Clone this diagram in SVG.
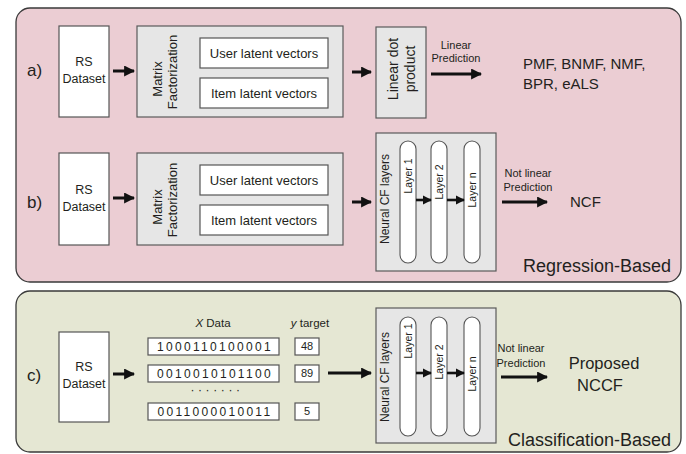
<svg xmlns="http://www.w3.org/2000/svg" width="686" height="454" viewBox="0 0 686 454">
<style>
text{font-family:"Liberation Sans",Arial,sans-serif;fill:#231f20}
.panel{stroke:#3a3a3a;stroke-width:1.3}
.pink{fill:#ebcdd3}
.green{fill:#e5e7d3}
.wbox{fill:#fff;stroke:#555;stroke-width:1.2}
.gbox{fill:#e6e6e6;stroke:#5a5a5a;stroke-width:1.2}
.pill{fill:#fff;stroke:#555;stroke-width:1.1}
.ar{stroke:#111;stroke-width:3;fill:none}
.ar2{stroke:#111;stroke-width:2.6;fill:none}
.lbl{font-size:17px}
.rs{font-size:12.5px;text-anchor:middle}
.lv{font-size:13px;text-anchor:middle}
.rot{font-size:13px;text-anchor:middle;dominant-baseline:central}
.lay{font-size:10.5px;text-anchor:middle;dominant-baseline:central}
.pred{font-size:11px;text-anchor:middle}
.res{font-size:15px}
.big{font-size:18px;text-anchor:end}
.bits{font-size:12px;letter-spacing:2.3px;text-anchor:middle}
.num{font-size:11px;text-anchor:middle}
</style>
<defs>
<marker id="ah" viewBox="0 0 10 10" refX="9" refY="5" markerWidth="11" markerHeight="11" markerUnits="userSpaceOnUse" orient="auto">
<path d="M0,0 L10,5 L0,10 Z" fill="#111"/>
</marker>
<marker id="ahs" viewBox="0 0 10 10" refX="9" refY="5" markerWidth="9" markerHeight="10" markerUnits="userSpaceOnUse" orient="auto">
<path d="M0,0 L10,5 L0,10 Z" fill="#111"/>
</marker>
</defs>

<g id="panel-regression">
<rect class="panel pink" x="16" y="8" width="665" height="274" rx="14"/>
<text class="big" x="671" y="272">Regression-Based</text>
</g>
<g id="panel-classification">
<rect class="panel green" x="16" y="291" width="665" height="161" rx="14"/>
<text class="big" x="671" y="446">Classification-Based</text>
</g>

<g id="row-a">
<text class="lbl" x="27" y="76">a)</text>
</g>
<g id="rs-a">
<rect class="wbox" x="59" y="26" width="50" height="91"/>
<text class="rs" x="84" y="66">RS</text>
<text class="rs" x="84" y="83">Dataset</text>
</g>
<g id="mf-a">
<rect class="gbox" x="137" y="26" width="206" height="91"/>
<text class="rot" transform="rotate(-90 157 79)" x="157" y="79">Matrix</text>
<text class="rot" transform="rotate(-90 172 72)" x="172" y="72">Factorization</text>
<rect class="wbox" x="200" y="38" width="128" height="30"/>
<text class="lv" x="264" y="58">User latent vectors</text>
<rect class="wbox" x="200" y="78" width="128" height="30"/>
<text class="lv" x="264" y="98">Item latent vectors</text>
</g>
<g id="dot-a">
<rect class="gbox" x="376" y="27" width="50" height="91"/>
<text class="rot" style="font-size:14px" transform="rotate(-90 393 69)" x="393" y="69">Linear dot</text>
<text class="rot" style="font-size:14px" transform="rotate(-90 410 69)" x="410" y="69">product</text>
</g>
<g id="out-a">
<text class="pred" x="456" y="49">Linear</text>
<text class="pred" x="456" y="62">Prediction</text>
<text class="res" x="523" y="69">PMF, BNMF, NMF,</text>
<text class="res" x="523" y="89">BPR, eALS</text>
</g>

<g id="row-b">
<text class="lbl" x="27" y="208">b)</text>
</g>
<g id="rs-b">
<rect class="wbox" x="59" y="153" width="50" height="92"/>
<text class="rs" x="84" y="194">RS</text>
<text class="rs" x="84" y="211">Dataset</text>
</g>
<g id="mf-b">
<rect class="gbox" x="137" y="153" width="206" height="92"/>
<text class="rot" transform="rotate(-90 157 207)" x="157" y="207">Matrix</text>
<text class="rot" transform="rotate(-90 172 200)" x="172" y="200">Factorization</text>
<rect class="wbox" x="200" y="165" width="128" height="30"/>
<text class="lv" x="264" y="185">User latent vectors</text>
<rect class="wbox" x="200" y="205" width="128" height="30"/>
<text class="lv" x="264" y="225">Item latent vectors</text>
</g>
<g id="ncf-b">
<rect class="gbox" x="376" y="133" width="120" height="138"/>
<text class="rot" style="font-size:12px" transform="rotate(-90 385 199)" x="385" y="199">Neural CF layers</text>
<rect class="pill" x="400" y="141" width="16" height="122" rx="8"/>
<rect class="pill" x="431" y="141" width="16" height="122" rx="8"/>
<rect class="pill" x="464" y="141" width="16" height="122" rx="8"/>
<text class="lay" transform="rotate(-90 408 176)" x="408" y="176">Layer 1</text>
<text class="lay" transform="rotate(-90 439 182)" x="439" y="182">Layer 2</text>
<text class="lay" transform="rotate(-90 472 190)" x="472" y="190">Layer n</text>
</g>
<g id="out-b">
<text class="pred" x="528" y="177">Not linear</text>
<text class="pred" x="528" y="191">Prediction</text>
<text class="res" x="570" y="207">NCF</text>
</g>

<g id="row-c">
<text class="lbl" x="27" y="381">c)</text>
</g>
<g id="rs-c">
<rect class="wbox" x="59" y="332" width="50" height="90"/>
<text class="rs" x="84" y="371">RS</text>
<text class="rs" x="84" y="388">Dataset</text>
</g>
<g id="data-c">
<text class="num" style="font-size:11.5px" x="213" y="327"><tspan font-style="italic">X</tspan> Data</text>
<text class="num" style="font-size:11.5px" x="310" y="327"><tspan font-style="italic">y</tspan> target</text>
<rect class="wbox" x="148" y="338" width="131" height="17"/>
<text class="bits" x="215" y="351">1000110100001</text>
<rect class="wbox" x="148" y="365" width="131" height="17"/>
<text class="bits" x="215" y="378">0010010101100</text>
<text class="bits" style="letter-spacing:3.6px" x="217" y="394">·······</text>
<rect class="wbox" x="148" y="403" width="131" height="17"/>
<text class="bits" x="215" y="416">0011000010011</text>
<rect class="wbox" x="295" y="338" width="24" height="17"/>
<text class="num" x="307" y="350">48</text>
<rect class="wbox" x="295" y="365" width="24" height="17"/>
<text class="num" x="307" y="377">89</text>
<rect class="wbox" x="295" y="403" width="24" height="17"/>
<text class="num" x="307" y="415">5</text>
</g>
<g id="ncf-c">
<rect class="gbox" x="376" y="308" width="120" height="135"/>
<text class="rot" style="font-size:12px" transform="rotate(-90 385 377)" x="385" y="377">Neural CF layers</text>
<rect class="pill" x="400" y="317" width="16" height="119" rx="8"/>
<rect class="pill" x="431" y="317" width="16" height="119" rx="8"/>
<rect class="pill" x="464" y="317" width="16" height="119" rx="8"/>
<text class="lay" transform="rotate(-90 408 341)" x="408" y="341">Layer 1</text>
<text class="lay" transform="rotate(-90 439 362)" x="439" y="362">Layer 2</text>
<text class="lay" transform="rotate(-90 472 374)" x="472" y="374">Layer n</text>
</g>
<g id="out-c">
<text class="pred" x="521" y="352">Not linear</text>
<text class="pred" x="521" y="367">Prediction</text>
<text class="res" style="font-size:16.5px;text-anchor:middle" x="604" y="369">Proposed</text>
<text class="res" style="font-size:16.5px;text-anchor:middle" x="600" y="391">NCCF</text>
</g>

<g id="connectors">
<line class="ar" x1="113" y1="71" x2="134" y2="71" marker-end="url(#ah)"/>
<line class="ar" x1="352" y1="72" x2="371" y2="72" marker-end="url(#ah)"/>
<line class="ar" x1="431" y1="74" x2="481" y2="74" marker-end="url(#ah)"/>
<line class="ar" x1="113" y1="198" x2="134" y2="198" marker-end="url(#ah)"/>
<line class="ar" x1="352" y1="202" x2="371" y2="202" marker-end="url(#ah)"/>
<line class="ar2" x1="416" y1="200" x2="431" y2="200" marker-end="url(#ahs)"/>
<line class="ar2" x1="447" y1="200" x2="464" y2="200" marker-end="url(#ahs)"/>
<line class="ar" x1="502" y1="202" x2="547" y2="202" marker-end="url(#ah)"/>
<line class="ar" x1="113" y1="374" x2="134" y2="374" marker-end="url(#ah)"/>
<line class="ar" x1="328" y1="373" x2="371" y2="373" marker-end="url(#ah)"/>
<line class="ar2" x1="416" y1="373" x2="431" y2="373" marker-end="url(#ahs)"/>
<line class="ar2" x1="447" y1="373" x2="464" y2="373" marker-end="url(#ahs)"/>
<line class="ar" x1="501" y1="377" x2="547" y2="377" marker-end="url(#ah)"/>
</g>
</svg>
